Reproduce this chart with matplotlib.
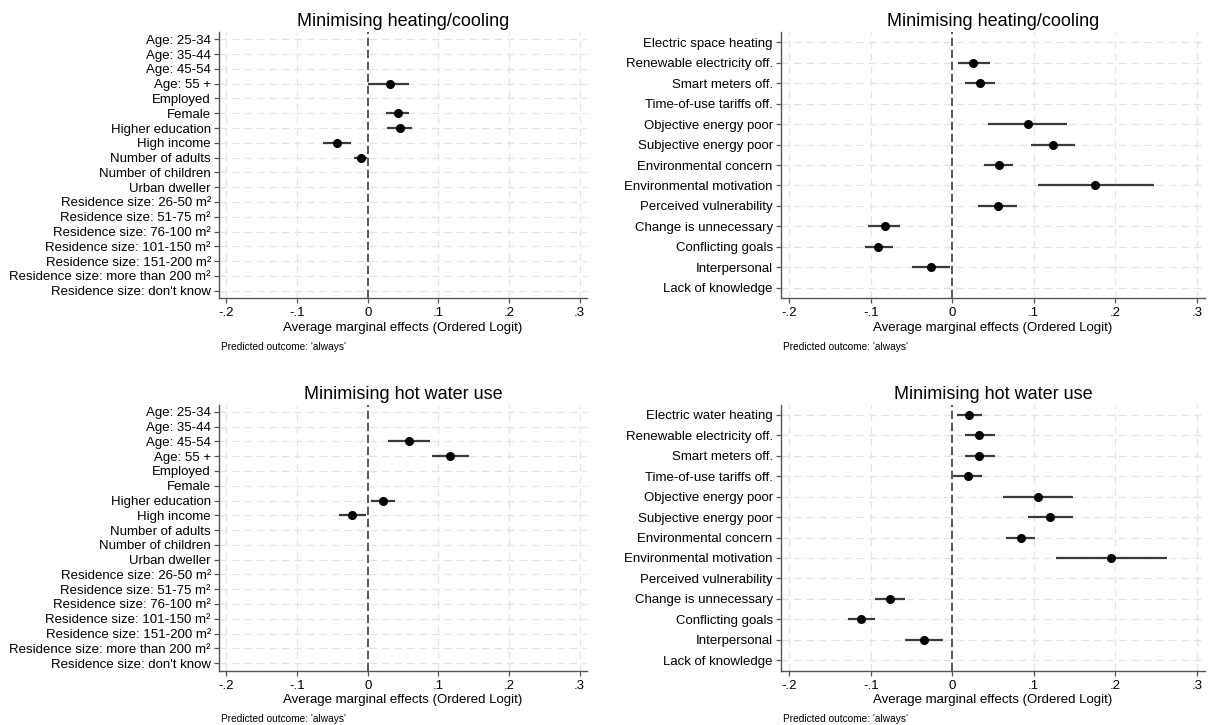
import numpy as np
import matplotlib
matplotlib.use("Agg")
import matplotlib.pyplot as plt

plt.rcParams['font.family'] = ['Liberation Sans', 'DejaVu Sans']

nan = np.nan

DEMO_LABELS = ["Age: 25-34", "Age: 35-44", "Age: 45-54", "Age: 55 +", "Employed",
               "Female", "Higher education", "High income", "Number of adults",
               "Number of children", "Urban dweller", "Residence size: 26-50 m²",
               "Residence size: 51-75 m²", "Residence size: 76-100 m²",
               "Residence size: 101-150 m²", "Residence size: 151-200 m²",
               "Residence size: more than 200 m²", "Residence size: don't know"]

HEAT_BEHAV_LABELS = ["Electric space heating", "Renewable electricity off.", "Smart meters off.",
                     "Time-of-use tariffs off.", "Objective energy poor", "Subjective energy poor",
                     "Environmental concern", "Environmental motivation", "Perceived vulnerability",
                     "Change is unnecessary", "Conflicting goals", "Interpersonal", "Lack of knowledge"]

WATER_BEHAV_LABELS = ["Electric water heating"] + HEAT_BEHAV_LABELS[1:]

# heating/cooling, socio-demographics
heat_demo_est = [nan, nan, nan, 0.031, nan, 0.043, 0.045, -0.044, -0.010,
                 nan, nan, nan, nan, nan, nan, nan, nan, nan]
heat_demo_lo = [nan, nan, nan, 0.001, nan, 0.026, 0.027, -0.063, -0.020,
                nan, nan, nan, nan, nan, nan, nan, nan, nan]
heat_demo_hi = [nan, nan, nan, 0.059, nan, 0.059, 0.063, -0.024, -0.001,
                nan, nan, nan, nan, nan, nan, nan, nan, nan]

# heating/cooling, behavioural factors
heat_beh_est = [nan, 0.026, 0.034, nan, 0.093, 0.123, 0.057, 0.175, 0.056,
                -0.083, -0.091, -0.026, nan]
heat_beh_lo = [nan, 0.007, 0.015, nan, 0.044, 0.096, 0.039, 0.105, 0.032,
               -0.103, -0.107, -0.050, nan]
heat_beh_hi = [nan, 0.046, 0.053, nan, 0.141, 0.151, 0.075, 0.247, 0.080,
               -0.064, -0.073, -0.003, nan]

# hot water, socio-demographics
water_demo_est = [nan, nan, 0.058, 0.117, nan, nan, 0.021, -0.022, nan,
                  nan, nan, nan, nan, nan, nan, nan, nan, nan]
water_demo_lo = [nan, nan, 0.028, 0.091, nan, nan, 0.005, -0.041, nan,
                 nan, nan, nan, nan, nan, nan, nan, nan, nan]
water_demo_hi = [nan, nan, 0.088, 0.144, nan, nan, 0.039, -0.003, nan,
                 nan, nan, nan, nan, nan, nan, nan, nan, nan]

# hot water, behavioural factors
water_beh_est = [0.021, 0.033, 0.033, 0.019, 0.105, 0.120, 0.084, 0.195, nan,
                 -0.077, -0.112, -0.035, nan]
water_beh_lo = [0.006, 0.015, 0.015, 0.001, 0.062, 0.093, 0.066, 0.127, nan,
                -0.095, -0.128, -0.058, nan]
water_beh_hi = [0.037, 0.052, 0.052, 0.037, 0.148, 0.148, 0.101, 0.264, nan,
                -0.058, -0.095, -0.011, nan]

XTICKS = [-0.2, -0.1, 0, 0.1, 0.2, 0.3]
XTICKLABELS = ["-.2", "-.1", "0", ".1", ".2", ".3"]

W, H = 1209, 725
fig = plt.figure(figsize=(W / 100, H / 100), dpi=100)


def draw_panel(rect, labels, est, lo, hi, title):
    left, top, right, bottom = rect
    ax = fig.add_axes([left / W, 1 - bottom / H, (right - left) / W, (bottom - top) / H])
    n = len(labels)
    ypos = np.arange(1, n + 1)

    for x in XTICKS:
        if x != 0:
            ax.axvline(x, color='#e4e4e4', lw=0.9, ls=(0, (6, 4)), zorder=0)
    for y in ypos:
        ax.axhline(y, color='#e4e4e4', lw=0.9, ls=(0, (6, 4)), zorder=0)
    ax.axvline(0, color='#3c3c3c', lw=1.2, ls=(0, (5, 2.2)), zorder=1)

    ax.hlines(ypos, lo, hi, color='#3a3a3a', lw=1.6, zorder=2)
    ax.plot(est, ypos, 'o', color='black', ms=5.5, zorder=3)

    ax.set_xlim(-0.21, 0.31)
    ax.set_ylim(n + 0.5, 0.5)
    ax.set_yticks(ypos)
    ax.set_yticklabels(labels, fontsize=9.5)
    ax.set_xticks(XTICKS)
    ax.set_xticklabels(XTICKLABELS, fontsize=9.5)
    ax.tick_params(axis='y', length=3.6, width=0.9, color='#555555', pad=2.5)
    ax.tick_params(axis='x', length=3.6, width=0.9, color='#555555', pad=3)
    for s in ['top', 'right']:
        ax.spines[s].set_visible(False)
    for s in ['left', 'bottom']:
        ax.spines[s].set_color('#555555')
        ax.spines[s].set_linewidth(1.0)
    ax.set_xlabel("Average marginal effects (Ordered Logit)", fontsize=9.5, labelpad=2)
    ax.set_title(title, fontsize=13, pad=4)
    fig.text((left + 2) / W, 1 - (bottom + 49) / H, "Predicted outcome: 'always'",
             fontsize=7.3, va='center', ha='left')
    return ax


draw_panel((219.3, 32, 586.8, 298), DEMO_LABELS, heat_demo_est, heat_demo_lo, heat_demo_hi,
           "Minimising heating/cooling")
draw_panel((781.2, 32, 1204.9, 298), HEAT_BEHAV_LABELS, heat_beh_est, heat_beh_lo, heat_beh_hi,
           "Minimising heating/cooling")
draw_panel((219.3, 404.5, 586.8, 670.5), DEMO_LABELS, water_demo_est, water_demo_lo, water_demo_hi,
           "Minimising hot water use")
draw_panel((781.2, 404.5, 1204.9, 670.5), WATER_BEHAV_LABELS, water_beh_est, water_beh_lo, water_beh_hi,
           "Minimising hot water use")

fig.savefig("out.png", dpi=100, facecolor='white')
